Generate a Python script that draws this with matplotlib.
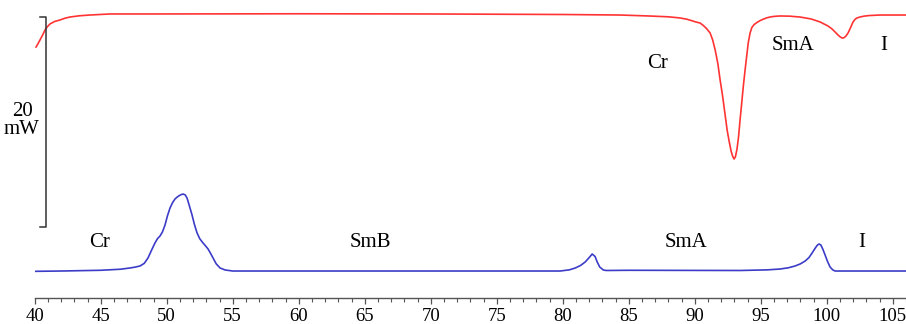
import matplotlib
matplotlib.use("Agg")
import matplotlib.pyplot as plt
from matplotlib.ticker import MultipleLocator

# Heating trace (red), mW with vertical offset
red_t = [40.1, 40.25, 40.4, 40.6, 40.78, 40.97, 41.16, 41.5, 41.92, 42.3, 42.67, 43.4, 44.18, 45.7, 48.7,
         60.0, 70.0, 80.0, 84.34, 86.5, 88.0, 88.89, 89.4, 89.8, 90.1, 90.4, 90.65, 90.9, 91.16, 91.35,
         91.55, 91.75, 91.92, 92.1, 92.25, 92.45, 92.6, 92.75, 92.87, 92.98, 93.08, 93.2, 93.32, 93.43,
         93.55, 93.68, 93.81, 93.93, 94.05, 94.19, 94.32, 94.5, 94.72, 94.95, 95.2, 95.45, 95.7, 96.0,
         96.46, 97.2, 97.97, 98.8, 99.49, 100.1, 100.4, 100.63, 100.85, 101.0, 101.16, 101.3, 101.45,
         101.61, 101.8, 101.99, 102.15, 102.3, 102.52, 102.8, 103.2, 104.03, 106.0]
red_q = [23.90, 24.22, 24.57, 25.05, 25.52, 25.85, 26.10, 26.33, 26.48, 26.65, 26.76, 26.88, 26.95, 27.05, 27.05,
         27.07, 27.05, 27.00, 26.95, 26.86, 26.78, 26.67, 26.55, 26.40, 26.28, 26.19, 25.95, 25.65, 25.24, 24.60,
         23.60, 22.30, 20.76, 19.30, 17.90, 16.00, 14.95, 14.00, 13.50, 13.24, 13.45, 14.20, 15.40, 16.95,
         18.50, 20.20, 21.71, 23.00, 24.30, 25.24, 25.75, 26.05, 26.25, 26.42, 26.56, 26.68, 26.76, 26.82,
         26.86, 26.84, 26.76, 26.58, 26.29, 25.90, 25.62, 25.33, 25.05, 24.88, 24.76, 24.78, 24.95,
         25.24, 25.75, 26.29, 26.55, 26.68, 26.76, 26.84, 26.90, 26.95, 26.95]

# Cooling trace (blue)
blue_t = [40.0, 42.0, 45.0, 46.5, 47.22, 47.6, 47.98, 48.3, 48.58, 48.85, 49.11, 49.3, 49.49, 49.68, 49.87,
          50.05, 50.25, 50.45, 50.63, 50.8, 50.95, 51.1, 51.24, 51.4, 51.54, 51.7, 51.92, 52.1, 52.3, 52.5,
          52.75, 52.95, 53.13, 53.3, 53.51, 53.75, 54.04, 54.42, 55.0, 60.0, 70.0, 79.8, 80.5, 80.95,
          81.35, 81.7, 82.0, 82.23, 82.45, 82.61, 82.8, 83.07, 83.3, 85.0, 93.43, 95.5, 96.46, 97.1,
          97.6, 98.0, 98.36, 98.65, 98.89, 99.15, 99.3, 99.42, 99.55, 99.7, 99.87, 100.05, 100.25,
          100.45, 100.63, 102.52, 106.0]
blue_q = [2.54, 2.57, 2.64, 2.74, 2.86, 2.94, 3.05, 3.30, 3.81, 4.55, 5.24, 5.65, 5.90, 6.30, 6.95,
          7.80, 8.57, 9.10, 9.43, 9.62, 9.75, 9.85, 9.90, 9.82, 9.52, 8.85, 7.90, 7.00, 6.19, 5.65,
          5.24, 4.95, 4.67, 4.30, 3.81, 3.25, 2.86, 2.67, 2.57, 2.57, 2.57, 2.57, 2.68, 2.86,
          3.10, 3.43, 3.85, 4.19, 3.95, 3.43, 2.95, 2.67, 2.62, 2.64, 2.62, 2.68, 2.76, 2.88,
          3.05, 3.25, 3.52, 3.85, 4.29, 4.80, 5.05, 5.14, 5.05, 4.65, 4.10, 3.50, 2.95,
          2.68, 2.57, 2.57, 2.57]

blue_labels = ["Cr", "SmB", "SmA", "I"]
blue_label_x = [44.95, 65.4, 89.35, 102.68]
red_labels = ["Cr", "SmA", "I"]
red_label_x = [87.15, 97.45, 104.3]

scale_mw = 20

plt.rcParams['font.family'] = ['Liberation Serif', 'DejaVu Serif']
fig = plt.figure(figsize=(9.06, 3.24), dpi=100)
ax = fig.add_axes([34.7 / 906, 26 / 324, 1 - 34.7 / 906, 1 - 26 / 324])
ax.set_xlim(40, 106.0)
ax.set_ylim(0, 298 / 10.5)

ax.plot(red_t, red_q, color='#ff3333', lw=1.2, solid_joinstyle='round', antialiased=True)
ax.plot(blue_t, blue_q, color='#3c3cc8', lw=1.2, solid_joinstyle='round', antialiased=True)

fs = 15
for lab, x in zip(blue_labels, blue_label_x):
    ax.text(x, 5.24, lab, ha='center', va='center', fontsize=fs, color='black')
red_y = [22.38, 24.0, 24.0]
for lab, x, y in zip(red_labels, red_label_x, red_y):
    ax.text(x, y, lab, ha='center', va='center', fontsize=fs, color='black')

# scale bar
top = 26.76
bot = top - scale_mw
bx = 40.86
ax.plot([40.42, bx, bx, 40.42], [top, top, bot, bot], color='#333333', lw=1.1, clip_on=False)
ax.text(39.04, (298 - 112) / 10.5, "20", ha='center', va='center', fontsize=fs, clip_on=False)
ax.text(39.04, (298 - 130) / 10.5, "mW", ha='center', va='center', fontsize=fs, clip_on=False)

for s in ['top', 'right', 'left']:
    ax.spines[s].set_visible(False)
ax.spines['bottom'].set_color('#555555')
ax.spines['bottom'].set_linewidth(1.0)
ax.set_yticks([])
ax.xaxis.set_major_locator(MultipleLocator(5))
ax.xaxis.set_minor_locator(MultipleLocator(1))
ax.tick_params(axis='x', which='major', direction='out', length=4.5, width=0.9, color='#555555',
               labelsize=13.5, pad=2.5)
ax.tick_params(axis='x', which='minor', direction='out', length=3, width=0.8, color='#555555')

fig.savefig('out.png', dpi=100)
